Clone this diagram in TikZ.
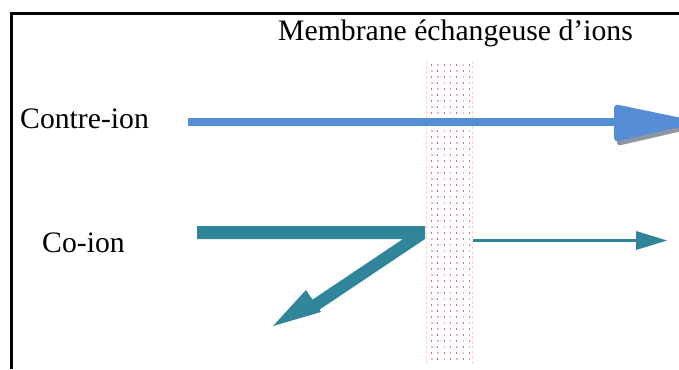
\documentclass[tikz,border=0pt]{standalone}
\usepackage{fontspec}
\setmainfont{Liberation Serif}
\usetikzlibrary{calc}
\begin{document}
\begin{tikzpicture}[x=1pt,y=-1pt,
  lbl/.style={font=\fontsize{29.7}{32}\selectfont, inner sep=0pt, anchor=base west},
  blueA/.style={fill=blueC},
  tealA/.style={fill=tealC}]
\definecolor{blueC}{RGB}{85,142,213}
\definecolor{tealC}{RGB}{49,133,155}
\definecolor{shadowC}{RGB}{140,150,165}
\definecolor{dotA}{RGB}{222,100,135}
\definecolor{dotB}{RGB}{244,180,195}
\definecolor{edgeC}{RGB}{250,215,185}
\useasboundingbox (0,0) rectangle (679,369);
\clip (0,0) rectangle (679,369);
% frame
\draw[line width=3pt] (11,369) -- (11,14) -- (685,14);
% membrane
\draw[edgeC, line width=1pt, dash pattern=on 3pt off 2pt] (426,61) -- (426,364);
\draw[edgeC, line width=1pt, dash pattern=on 3pt off 2pt] (472,61) -- (472,364);
\foreach \r in {0,...,49}{
  \pgfmathsetmacro{\yy}{64+6*\r}
  \foreach \c in {0,...,6}{
    \pgfmathsetmacro{\xx}{431+6.3*\c}
    \pgfmathparse{mod(\r+\c,2)==0 ? 1 : 0}
    \ifnum\pgfmathresult=1
      \fill[dotA] (\xx,\yy) rectangle ++(1,2);
    \else
      \fill[dotB] (\xx,\yy) rectangle ++(1.5,1.5);
    \fi
  }
}
% labels
\node[lbl] (title) at (278,41) {Membrane échangeuse d’ions};
\node[lbl] (contre) at (20,128) {Contre-ion};
\node[lbl] (coion) at (42,252) {Co-ion};
% contre-ion arrow
\coordinate (cs) at (188,122);
\coordinate (ch) at (616,122);
\fill[blueA] ($(cs)+(0,-4)$) rectangle ($(ch)+(0,4)$);
\fill[shadowC, rounded corners=3pt] (617,109) -- (704,126) -- (617,146) -- cycle;
\fill[blueA, rounded corners=4pt] (614,104) -- (701,122) -- (614,142) -- cycle;
% co-ion thick arrow
\fill[tealA] (197,226) -- (425,226) -- (425,239) -- (319.4,309.7) -- (321,312) -- (273,326)
  -- (306,290) -- (312.5,299.6) -- (403,239) -- (197,239) -- cycle;
% thin co-ion arrow
\coordinate (ts) at (473,240.5);
\coordinate (tt) at (667,240.5);
\draw[tealC, line width=3pt] (ts) -- (637,240.5);
\fill[tealA] (636,231) -- (tt) -- (636,250) -- cycle;
\end{tikzpicture}
\end{document}
